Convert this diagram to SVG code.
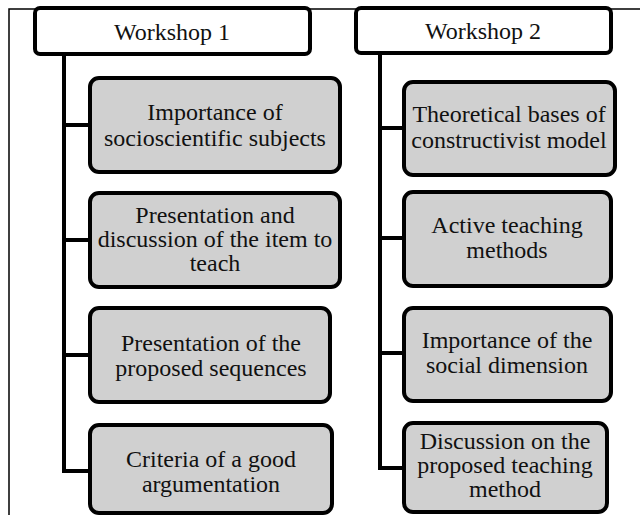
<svg xmlns="http://www.w3.org/2000/svg" width="640" height="515" viewBox="0 0 640 515">
<style>
.frame{fill:none;stroke:#000;stroke-width:1.5}
.conn{fill:none;stroke:#000;stroke-width:4}
.head{fill:#fff;stroke:#000;stroke-width:4}
.item{fill:#d0d0d0;stroke:#000;stroke-width:4}
text{font-family:'Liberation Serif','Times New Roman',serif;font-size:24px;fill:#111;text-anchor:middle}
</style>
<rect width="640" height="515" fill="#fff"/>
<path class="frame" d="M9,515 V9 H640"/>
<g id="connectors">
<path class="conn" d="M64,54 V471 H90 M64,125 H90 M64,240 H90 M64,355 H90"/>
<path class="conn" d="M380,53 V468 H404 M380,128 H404 M380,238 H404 M380,353 H404"/>
</g>
<g id="workshop1">
<rect class="head" x="35" y="8" width="275" height="46" rx="5"/>
<text x="172" y="40">Workshop 1</text>
</g>
<g id="workshop2">
<rect class="head" x="356" y="8" width="255" height="45" rx="5"/>
<text x="483" y="39">Workshop 2</text>
</g>
<g id="w1-item1">
<rect class="item" x="90" y="78" width="250" height="94" rx="9"/>
<text x="215" y="120">Importance of</text>
<text x="215" y="146">socioscientific subjects</text>
</g>
<g id="w1-item2">
<rect class="item" x="90" y="193" width="250" height="94" rx="9"/>
<text x="215" y="223">Presentation and</text>
<text x="215" y="247">discussion of the item to</text>
<text x="215" y="271">teach</text>
</g>
<g id="w1-item3">
<rect class="item" x="90" y="308" width="240" height="94" rx="9"/>
<text x="211" y="351">Presentation of  the</text>
<text x="211" y="376">proposed sequences</text>
</g>
<g id="w1-item4">
<rect class="item" x="90" y="425" width="242" height="88" rx="9"/>
<text x="211" y="467">Criteria of a good</text>
<text x="211" y="492">argumentation</text>
</g>
<g id="w2-item1">
<rect class="item" x="404" y="82" width="211" height="93" rx="9"/>
<text x="509" y="122">Theoretical bases of</text>
<text x="509" y="148">constructivist model</text>
</g>
<g id="w2-item2">
<rect class="item" x="404" y="192" width="207" height="94" rx="9"/>
<text x="507" y="233">Active teaching</text>
<text x="507" y="258">methods</text>
</g>
<g id="w2-item3">
<rect class="item" x="404" y="308" width="207" height="93" rx="9"/>
<text x="507" y="348">Importance of the</text>
<text x="507" y="373">social dimension</text>
</g>
<g id="w2-item4">
<rect class="item" x="404" y="423" width="203" height="89" rx="9"/>
<text x="505" y="449">Discussion on the</text>
<text x="505" y="473">proposed teaching</text>
<text x="505" y="497">method</text>
</g>
</svg>
